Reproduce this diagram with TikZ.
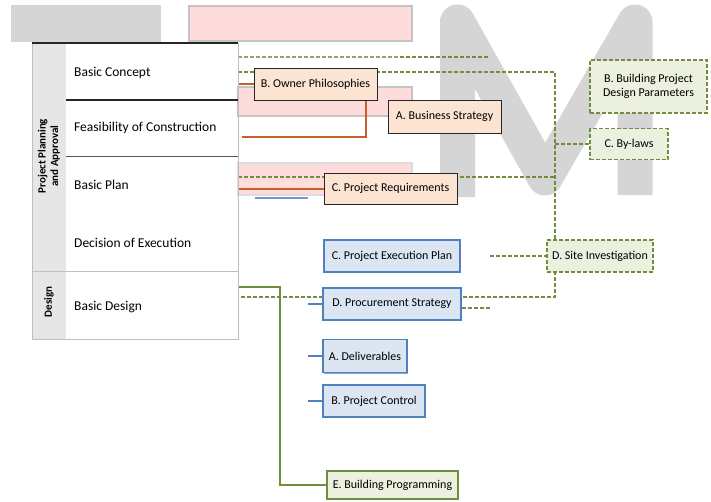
\documentclass[tikz,border=0pt]{standalone}
\usepackage{fontspec}
\setmainfont{Carlito}
\usetikzlibrary{shadows}
\definecolor{peach}{HTML}{FCE4D3}
\definecolor{bluefill}{HTML}{DCE6F2}
\definecolor{blueline}{HTML}{4F81BD}
\definecolor{greenfill}{HTML}{EBF1DE}
\definecolor{greenline}{HTML}{6F8F3F}
\definecolor{orangec}{HTML}{C0622A}
\definecolor{wmgrey}{HTML}{D5D5D5}
\definecolor{wmedge}{HTML}{C4C4C4}
\definecolor{wmpink}{HTML}{FFDCDC}
\definecolor{leftcol}{HTML}{E6E6E6}
\definecolor{tgrey}{HTML}{BFBFBF}
\pgfdeclarelayer{wm}
\pgfdeclarelayer{lines}
\pgfsetlayers{wm,lines,main}
\begin{document}
\begin{tikzpicture}[x=1pt,y=-1pt,
  nodefont/.style={font=\fontsize{12}{13.5}\selectfont},
  peachbox/.style={nodefont, draw=black!85, line width=0.9pt, fill=peach, inner sep=2pt,
    drop shadow={shadow xshift=1.3pt, shadow yshift=-1.3pt, fill=black!75, opacity=1}},
  bluebox/.style={nodefont, draw=blueline, line width=1.3pt, fill=bluefill, inner sep=2pt,
    drop shadow={shadow xshift=1pt, shadow yshift=-1pt, fill=blueline!70, opacity=1}},
  greenbox/.style={nodefont, draw=greenline, line width=1.3pt, fill=greenfill, inner sep=2pt},
  greendash/.style={greenbox, dash pattern=on 4pt off 2pt, line width=1.4pt},
  rowtext/.style={font=\fontsize{13.5}{15}\selectfont, anchor=west, inner sep=0pt},
  grouptext/.style={font=\bfseries\fontsize{11}{12.5}\selectfont, rotate=90, align=center, inner sep=0pt},
  oline/.style={draw=orangec, line width=2pt},
  gdash/.style={draw=greenline, line width=1.6pt, dash pattern=on 4pt off 2pt},
  gdashlight/.style={draw=greenline!50!gray!80, line width=1.6pt, dash pattern=on 4pt off 2pt},
  gsolid/.style={draw=greenline, line width=1.6pt},
  bline/.style={draw=blueline, line width=1.8pt}
]
\useasboundingbox (0,0) rectangle (711,501);

% ---------- background watermark ----------
\begin{pgfonlayer}{wm}
\fill[wmgrey] (11,5) rectangle (161,42);
\fill[wmgrey] (61,42) rectangle (111,44);
\filldraw[fill=wmpink, draw=wmedge, line width=2pt] (189,6) rectangle (412,41);
\filldraw[fill=wmpink, draw=wmedge, line width=2pt] (238,87) rectangle (412,116);
\filldraw[fill=wmpink, draw=wmedge!60, line width=2pt] (238,163) rectangle (412,195);
\draw[wmgrey, line width=35pt, line join=round, line cap=butt]
  (457.5,197) -- (457.5,22) -- (545,178) -- (635,22) -- (635,195);
\end{pgfonlayer}

% ---------- table ----------
\fill[leftcol] (32,43) rectangle (66,339);
\draw[tgrey, line width=1pt] (32,43) rectangle (238,339);
\draw[tgrey, line width=1pt] (32,271) -- (238,271);
\draw[black!85, line width=1.3pt] (32,43) -- (238,43);
\draw[black!85, line width=1.1pt] (66,100) -- (238,100);
\draw[black!65, line width=1pt] (66,156) -- (238,156);

\node[rowtext] (r1) at (74,73) {Basic Concept};
\node[rowtext] (r2) at (74,128) {Feasibility of Construction};
\node[rowtext] (r3) at (74,185) {Basic Plan};
\node[rowtext] (r4) at (74,243) {Decision of Execution};
\node[rowtext] (r5) at (74,307) {Basic Design};
\node[grouptext] (g1) at (49,156) {Project Planning\\and Approval};
\node[grouptext] (g2) at (49,302) {Design};

% ---------- coordinates ----------
\coordinate (t57) at (238,57);
\coordinate (m57) at (400,57);
\coordinate (e57) at (490,57);
\coordinate (t72) at (238,72);
\coordinate (v72) at (555,72);
\coordinate (v297) at (555,297);
\coordinate (t297) at (238,297);
\coordinate (t177) at (238,177);
\coordinate (v177) at (555,177);
\coordinate (v144) at (555,144);
\coordinate (c256) at (490,256);
\coordinate (c308) at (490,308);
\coordinate (t84) at (238,84);
\coordinate (t137) at (242,137);
\coordinate (t188) at (238,188.5);
\coordinate (t287) at (238,287);
\coordinate (k287) at (280,287);
\coordinate (k485) at (280,485);
\coordinate (bl1) at (255,198);
\coordinate (bl2) at (308,198);
\coordinate (b304) at (308,304);
\coordinate (b356) at (308,356);
\coordinate (b401) at (308,401);

% ---------- nodes ----------
\node[peachbox, minimum width=123pt, minimum height=32pt] (owner) at (315.5,84) {B. Owner Philosophies};
\node[peachbox, minimum width=113pt, minimum height=33pt] (biz) at (444.5,116.5) {A. Business Strategy};
\node[peachbox, minimum width=133pt, minimum height=31pt] (req) at (390.5,188.5) {C. Project Requirements};
\node[bluebox, minimum width=136pt, minimum height=32pt] (exec) at (392,256) {C. Project Execution Plan};
\node[bluebox, minimum width=138pt, minimum height=32pt, line width=1.8pt] (proc) at (392,304) {D. Procurement Strategy};
\node[bluebox, minimum width=84pt, minimum height=33pt] (deliv) at (365,356) {A. Deliverables};
\node[bluebox, minimum width=102pt, minimum height=32pt] (ctrl) at (374,401) {B. Project Control};
\node[greenbox, minimum width=131pt, minimum height=28pt, line width=1.6pt] (prog) at (392.5,485) {E. Building Programming};
\node[greendash, minimum width=106pt, minimum height=32pt] (site) at (600,256) {D. Site Investigation};
\node[greendash, minimum width=117pt, minimum height=53pt, align=center] (param) at (648.5,86.5) {B. Building Project\\Design Parameters};
\node[greendash, minimum width=78pt, minimum height=31pt] (bylaw) at (629,144) {C. By-laws};

% ---------- connectors (behind nodes) ----------
\begin{pgfonlayer}{lines}
\draw[gdashlight] (t57) -- (m57);
\draw[gdash] (m57) -- (e57);
\draw[gdash] (t72) -- (v72) -- (v297) -- (t297);
\draw[gdash] (t177) -- (v177);
\draw[gdash] (v144) -- (bylaw.west);
\draw[gdash] (c256) -- (site.west);
\draw[gdash] (proc.east |- c308) -- (c308);
\draw[oline] (t84) -- (owner.west);
\draw[oline] (t137) -| ([xshift=-11pt]owner.south east);
\draw[oline] (t188) -- (req.west);
\draw[gsolid] (t287) -- (k287) -- (k485) -- (prog.west);
\draw[bline, draw=blueline!80] (bl1) -- (bl2);
\draw[bline] (b304) -- (proc.west);
\draw[bline] (b356) -- (deliv.west);
\draw[bline] (b401) -- (ctrl.west);
\end{pgfonlayer}
\end{tikzpicture}
\end{document}
